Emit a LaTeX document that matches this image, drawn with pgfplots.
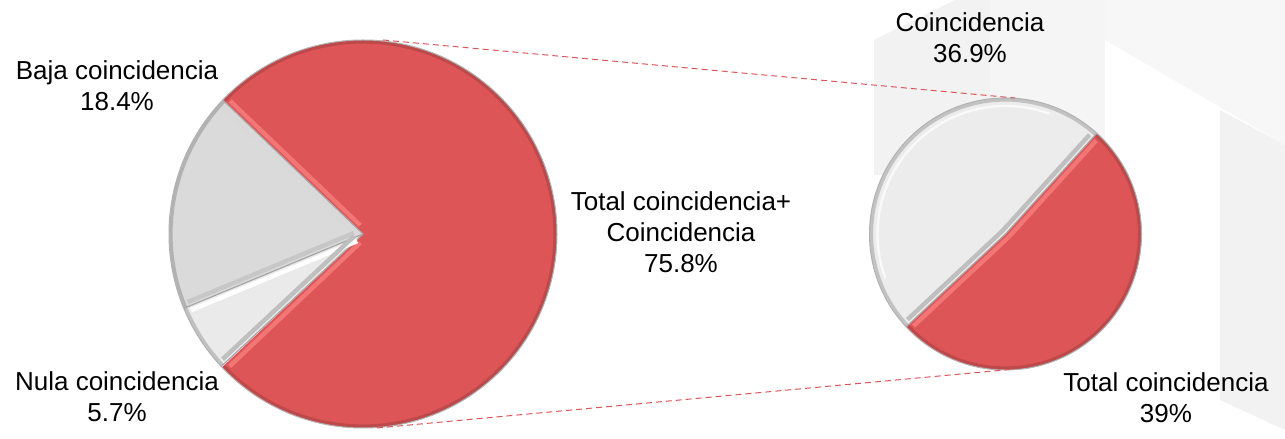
\documentclass[border=0pt]{standalone}
\usepackage{pgfplots}
\pgfplotsset{compat=1.18}
\usepackage{fontspec}
\setmainfont{Liberation Sans}
\usetikzlibrary{calc}
\definecolor{piered}{RGB}{222,85,88}
\definecolor{piereddark}{RGB}{160,62,64}
\definecolor{pierpink}{RGB}{242,118,118}
\definecolor{bajagray}{RGB}{218,218,218}
\definecolor{nulagray}{RGB}{234,234,234}
\definecolor{coingray}{RGB}{236,236,236}
% data (percent)
\def\pTotalCo{75.8}
\def\pBaja{18.4}
\def\pNula{5.7}
\def\pCoin{36.9}
\def\pTotal{39}
% wedge fill: cx, cy, radius(pt), start, end, fill, rim colour
\newcommand{\pieWedge}[7]{%
  \fill[#6] (axis cs:#1,#2) -- ++(#4:#3) arc[start angle=#4,end angle=#5,radius=#3] -- cycle;
  \draw[#7,line width=1.8pt,opacity=0.5] (axis cs:#1,#2) ++(#4:#3-0.9pt) arc[start angle=#4,end angle=#5,radius=#3-0.9pt];
}
% edge highlight: cx, cy, radius, angle, offset direction, colour, start gap
\newcommand{\edgeHL}[7]{%
  \draw[#6,line width=2.2pt] ($(axis cs:#1,#2)+(#5:2.2pt)+(#4:#7)$) -- ++(#4:#3-#7-3pt);
}
\newcommand{\edgeLine}[4]{%
  \draw[black!35,line width=0.6pt] (axis cs:#1,#2) -- ++(#4:#3);
}
\begin{document}
\begin{tikzpicture}
\begin{axis}[x=0.5pt,y=0.5pt,xmin=0,xmax=1285,ymin=0,ymax=430,
  hide axis,clip=false,scale only axis]
\path (axis cs:0,0) rectangle (axis cs:1285,430);
% faint background shapes
\fill[black!5] (axis cs:874,390) -- (axis cs:955,430) -- (axis cs:990,430) -- (axis cs:990,255) -- (axis cs:874,255) -- cycle;
\fill[black!4] (axis cs:990,430) -- (axis cs:1105,430) -- (axis cs:1105,255) -- (axis cs:990,255) -- cycle;
\fill[black!3] (axis cs:1105,430) -- (axis cs:1285,430) -- (axis cs:1285,285) -- (axis cs:1105,390) -- cycle;
\fill[black!5] (axis cs:1220,320) -- (axis cs:1285,285) -- (axis cs:1285,0) -- (axis cs:1220,30) -- cycle;
% angles
\pgfmathsetmacro{\aL}{136.3}
\pgfmathsetmacro{\aRedEnd}{\aL-3.6*\pTotalCo}
\pgfmathsetmacro{\aBaja}{\aL+3.6*\pBaja}
\pgfmathsetmacro{\aNula}{\aBaja+3.6*\pNula}
\pgfmathsetmacro{\aR}{47.8}
\pgfmathsetmacro{\aCoin}{\aR+360*\pCoin/\pTotalCo}
\pgfmathsetmacro{\aTot}{\aR+360}
% left pie
\pieWedge{363}{196}{97pt}{\aL}{\aRedEnd}{piered}{piereddark}
\pieWedge{363}{196}{97pt}{\aL}{\aBaja}{bajagray}{black!45}
\pieWedge{363}{196}{97pt}{\aBaja}{\aNula}{nulagray}{black!40}
\edgeLine{363}{196}{97pt}{\aL}
\edgeLine{363}{196}{97pt}{\aBaja}
\edgeLine{363}{196}{97pt}{\aNula}
\edgeHL{363}{196}{97pt}{\aL}{\aL-90}{pierpink}{4pt}
\edgeHL{363}{196}{97pt}{\aRedEnd}{\aRedEnd+90}{pierpink}{4pt}
\edgeHL{363}{196}{97pt}{\aL}{\aL+90}{white!85!black}{4pt}
\edgeHL{363}{196}{97pt}{\aBaja}{\aBaja+90}{white}{4pt}
\edgeHL{363}{196}{97pt}{\aBaja}{\aBaja-90}{black!22}{4pt}
\edgeHL{363}{196}{97pt}{\aNula}{\aNula-90}{black!25}{4pt}
\draw[black!30,line width=0.5pt] (axis cs:363,196) circle[radius=97pt];
% right pie
\pieWedge{1005.5}{196}{68pt}{\aR}{\aCoin}{coingray}{black!40}
\pieWedge{1005.5}{196}{68pt}{\aCoin}{\aTot}{piered}{piereddark}
\edgeLine{1005.5}{196}{68pt}{\aR}
\edgeLine{1005.5}{196}{68pt}{\aCoin}
\edgeHL{1005.5}{196}{68pt}{\aR}{\aR-90}{pierpink}{0pt}
\edgeHL{1005.5}{196}{68pt}{\aCoin}{\aCoin+90}{pierpink}{0pt}
\edgeHL{1005.5}{196}{68pt}{\aR}{\aR+90}{black!25}{0pt}
\edgeHL{1005.5}{196}{68pt}{\aCoin}{\aCoin-90}{black!25}{0pt}
\draw[white,line width=1.2pt,opacity=0.7] (axis cs:1005.5,196) ++(70:64pt) arc[start angle=70,end angle=200,radius=64pt];
\draw[black!30,line width=0.5pt] (axis cs:1005.5,196) circle[radius=68pt];
% connectors
\draw[piered,densely dashed,line width=0.5pt] (axis cs:383,390) -- (axis cs:1015,332);
\draw[piered,densely dashed,line width=0.5pt] (axis cs:377,2) -- (axis cs:1015,61);
% labels
\begin{scope}[every node/.style={align=center,font=\fontsize{13}{15.5}\selectfont,inner sep=0pt}]
\node at (axis cs:117,344) {Baja coincidencia\\18.4\%};
\node at (axis cs:117,33) {Nula coincidencia\\5.7\%};
\node at (axis cs:681,198) {Total coincidencia+\\Coincidencia\\75.8\%};
\node at (axis cs:970,392) {Coincidencia\\36.9\%};
\node at (axis cs:1166,32) {Total coincidencia\\39\%};
\end{scope}
\end{axis}
\end{tikzpicture}
\end{document}
